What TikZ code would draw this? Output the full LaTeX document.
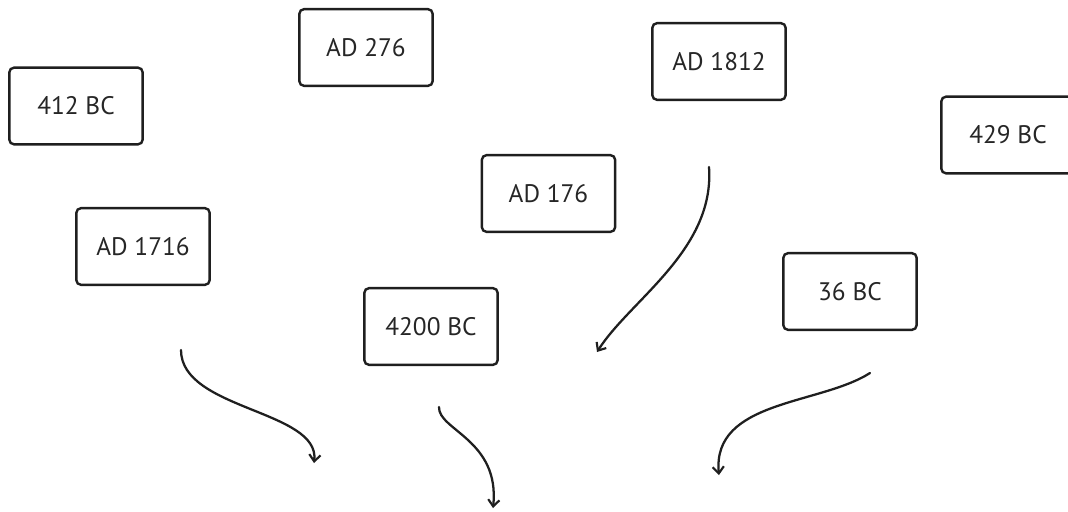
\documentclass[tikz,border=0pt]{standalone}
\usepackage{fontspec}
\setmainfont{PT Sans}
\usetikzlibrary{arrows.meta}
\tikzset{
  datebox/.style={draw=black!88, line width=1.8pt, rounded corners=3.5pt, rectangle,
    minimum width=100pt, minimum height=57.5pt, inner sep=2pt,
    font=\fontsize{19}{21}\selectfont, text=black!85},
  flow/.style={draw=black!88, line width=1.7pt, line cap=round,
    -{Straight Barb[length=5pt,width=8.5pt,line width=1.6pt]}}
}
\begin{document}
\begin{tikzpicture}[x=0.75pt,y=-0.75pt]
\useasboundingbox (0,0) rectangle (1068,511);
\node[datebox] (n412) at (76,106) {412 BC};
\node[datebox] (n1716) at (143,246.5) {AD 1716};
\node[datebox] (n276) at (366,47.5) {AD 276};
\node[datebox] (n176) at (548.5,193.5) {AD 176};
\node[datebox] (n1812) at (719,61.5) {AD 1812};
\node[datebox] (n429) at (1008,135) {429 BC};
\node[datebox] (n36) at (850,291.5) {36 BC};
\node[datebox] (n4200) at (431,326.5) {4200 BC};

\coordinate (a1s) at (181,350);
\coordinate (a1e) at (314,463);
\coordinate (a2s) at (439,407);
\coordinate (a2e) at (493,508);
\coordinate (a3s) at (709,167);
\coordinate (a3e) at (597,352);
\coordinate (a4s) at (870,373);
\coordinate (a4e) at (719,475);

\draw[flow] (a1s) .. controls (181,410) and (320,410) .. (a1e);
\draw[flow] (a2s) .. controls (438,430) and (500,440) .. (a2e);
\draw[flow] (a3s) .. controls (715,250) and (630,300) .. (a3e);
\draw[flow] (a4s) .. controls (820,405) and (712,400) .. (a4e);
\end{tikzpicture}
\end{document}
